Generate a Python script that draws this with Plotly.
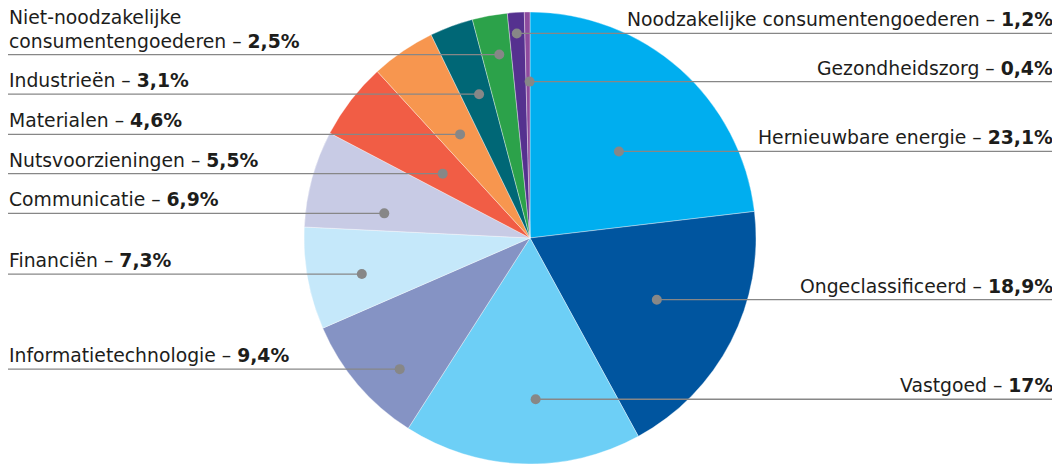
import math
import plotly.graph_objects as go

# ---- data ----
categories = [
    "Hernieuwbare energie",
    "Ongeclassificeerd",
    "Vastgoed",
    "Informatietechnologie",
    "Financiën",
    "Communicatie",
    "Nutsvoorzieningen",
    "Materialen",
    "Industrieën",
    "Niet-noodzakelijke<br>consumentengoederen",
    "Noodzakelijke consumentengoederen",
    "Gezondheidszorg",
]
values = [23.1, 18.9, 17.0, 9.4, 7.3, 6.9, 5.5, 4.6, 3.1, 2.5, 1.2, 0.4]
value_labels = ["23,1%", "18,9%", "17%", "9,4%", "7,3%", "6,9%", "5,5%",
                "4,6%", "3,1%", "2,5%", "1,2%", "0,4%"]

# ---- styles ----
colors = ["#00AEEF", "#00559F", "#6DCFF6", "#8593C4", "#C5E8FA", "#C8CBE5",
          "#F15D45", "#F7964F", "#006776", "#2CA24A", "#55318F", "#8E4B9E"]
label_side = ["right", "right", "right", "left", "left", "left", "left",
              "left", "left", "left", "right", "right"]
# leader anchor inside each slice: fraction along the slice's arc and of the radius
anchor_angle_frac = [0.55, 0.48, 0.435, 0.36, 0.434, 0.274, 0.441, 0.514, 0.577, 0.585, 0.478, 0.9]
anchor_radius_frac = [0.549, 0.624, 0.714, 0.818, 0.761, 0.654, 0.48, 0.553, 0.675, 0.823, 0.907, 0.692]

# page body has an 8px margin, so the figure is drawn 8px in from the window edge
OFF = 8
W, H = 1060 - OFF, 464 - OFF
cx, cy, R = 530 - OFF, 238 - OFF, 226
left_edge, right_edge = 8 - OFF, 1054 - OFF
font_family = "DejaVu Sans, Verdana, sans-serif"
font_size = 18.8
text_color = "#1d1d1b"
line_color = "#878787"

fig = go.Figure()

fig.add_trace(go.Pie(
    labels=[c.replace("<br>", " ") for c in categories],
    values=values,
    sort=False,
    direction="clockwise",
    rotation=0,
    marker=dict(colors=colors, line=dict(color="rgba(255,255,255,0.6)", width=0.6)),
    textinfo="none",
    hoverinfo="label+percent",
    showlegend=False,
    domain=dict(x=[(cx - R) / W, (cx + R) / W], y=[(H - cy - R) / H, (H - cy + R) / H]),
))

total = sum(values)
cum = 0.0
shapes = []
annotations = []
dot_r = 5
for cat, v, vl, side, fa, fr in zip(categories, values, value_labels, label_side,
                                    anchor_angle_frac, anchor_radius_frac):
    ang = (cum + v * fa) / total * 2 * math.pi
    cum += v
    px = cx + fr * R * math.sin(ang)
    py = cy - fr * R * math.cos(ang)
    end = right_edge if side == "right" else left_edge
    shapes.append(dict(type="line", xref="x", yref="y", layer="above",
                       x0=px, x1=end, y0=py, y1=py,
                       line=dict(color=line_color, width=1.3)))
    shapes.append(dict(type="circle", xref="x", yref="y", layer="above",
                       x0=px - dot_r, x1=px + dot_r, y0=py - dot_r, y1=py + dot_r,
                       fillcolor=line_color, line=dict(width=0)))
    annotations.append(dict(
        x=end, y=py, xref="x", yref="y",
        text=f"{cat} – <b>{vl}</b>",
        showarrow=False,
        xanchor="right" if side == "right" else "left",
        yanchor="bottom",
        align="right" if side == "right" else "left",
        yshift=1,
        xshift=1 if side == "right" else -1,
        font=dict(family=font_family, size=font_size, color=text_color),
    ))

fig.update_layout(
    width=W, height=H,
    margin=dict(l=0, r=0, t=0, b=0),
    paper_bgcolor="white", plot_bgcolor="rgba(0,0,0,0)",
    xaxis=dict(range=[0, W], visible=False, fixedrange=True),
    yaxis=dict(range=[H, 0], visible=False, fixedrange=True),
    annotations=annotations,
    shapes=shapes,
    showlegend=False,
)

fig.write_html("out.html")
